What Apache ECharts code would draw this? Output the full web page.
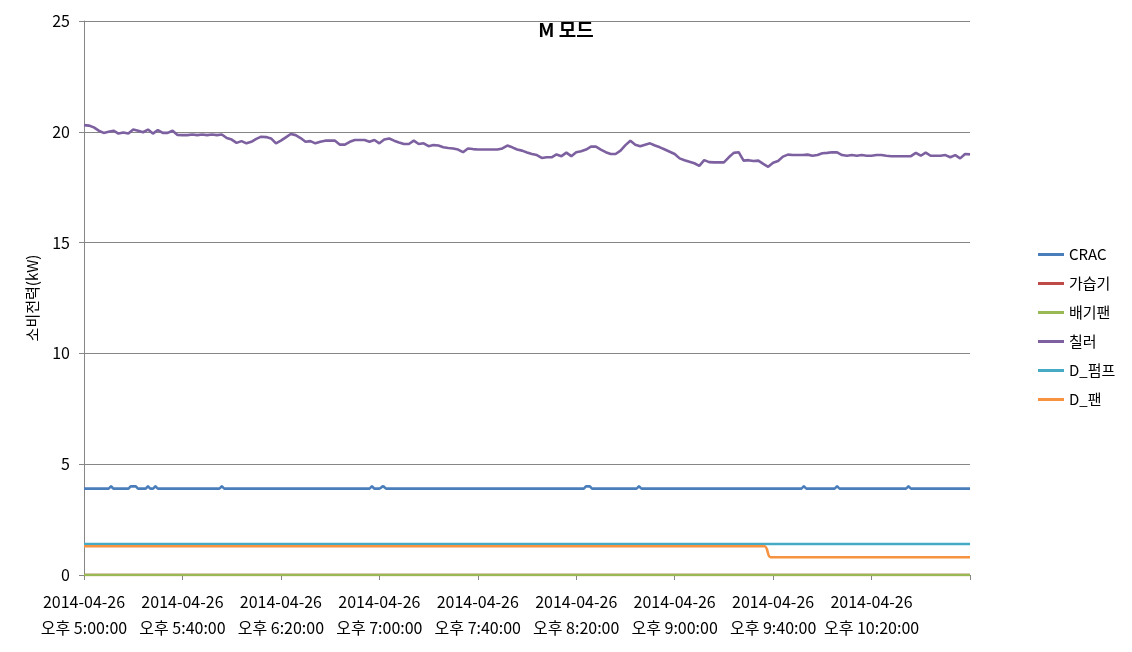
<!DOCTYPE html>
<html>
<head>
<meta charset="utf-8">
<script src="https://cdn.jsdelivr.net/npm/echarts@6/dist/echarts.min.js"></script>
<style>
html,body{margin:0;padding:0;background:#fff;}
#chart{width:1132px;height:652px;}
</style>
</head>
<body>
<div id="chart"></div>
<script>
// ---- Data (minutes after 오후 5:00:00) ----
const seriesNames = ['CRAC', '가습기', '배기팬', '칠러', 'D_펌프', 'D_팬'];
const xTickLabels = [
  '2014-04-26\n오후 5:00:00', '2014-04-26\n오후 5:40:00', '2014-04-26\n오후 6:20:00',
  '2014-04-26\n오후 7:00:00', '2014-04-26\n오후 7:40:00', '2014-04-26\n오후 8:20:00',
  '2014-04-26\n오후 9:00:00', '2014-04-26\n오후 9:40:00', '2014-04-26\n오후 10:20:00'
];
const yTicks = [0, 5, 10, 15, 20, 25];

// 칠러: one reading every 2 minutes, 5:00 .. 11:00
const chillerStep = 2;
const chillerValues = [
  20.3, 20.28, 20.2, 20.05, 19.95, 20.0, 20.05, 19.92, 19.97, 19.92,
  20.1, 20.05, 19.98, 20.1, 19.92, 20.08, 19.95, 19.95, 20.05, 19.86,
  19.85, 19.85, 19.88, 19.85, 19.88, 19.85, 19.88, 19.85, 19.88, 19.72,
  19.65, 19.5, 19.58, 19.48, 19.55, 19.68, 19.78, 19.76, 19.7, 19.48,
  19.6, 19.75, 19.9, 19.85, 19.72, 19.55, 19.58, 19.48, 19.55, 19.6,
  19.6, 19.6, 19.42, 19.42, 19.55, 19.63, 19.63, 19.63, 19.55, 19.63,
  19.48, 19.65, 19.7, 19.6, 19.52, 19.45, 19.45, 19.6, 19.45, 19.48,
  19.35, 19.4, 19.38, 19.3, 19.27, 19.25, 19.2, 19.08, 19.25, 19.22,
  19.2, 19.2, 19.2, 19.2, 19.2, 19.25, 19.38, 19.3, 19.2, 19.15,
  19.07, 19.0, 18.95, 18.82, 18.85, 18.85, 18.98, 18.9, 19.06, 18.9,
  19.08, 19.12, 19.2, 19.33, 19.33, 19.2, 19.08, 19.0, 19.0, 19.15,
  19.4, 19.6, 19.42, 19.35, 19.42, 19.48, 19.38, 19.3, 19.2, 19.1,
  19.0, 18.8, 18.72, 18.65, 18.58, 18.46, 18.72, 18.63, 18.62, 18.62,
  18.62, 18.85, 19.05, 19.08, 18.7, 18.72, 18.68, 18.7, 18.55, 18.42,
  18.6, 18.68, 18.88, 18.97, 18.95, 18.95, 18.95, 18.97, 18.92, 18.95,
  19.03, 19.05, 19.08, 19.07, 18.95, 18.92, 18.95, 18.92, 18.95, 18.92,
  18.92, 18.95, 18.95, 18.92, 18.9, 18.9, 18.9, 18.9, 18.9, 19.05,
  18.92, 19.06, 18.92, 18.92, 18.92, 18.95, 18.85, 18.95, 18.8, 19.0,
  18.98
];

// CRAC: change points
const cracTimes  = [0,   10,  11,  12,  18,  19,  21,  22,  25,  26,  27,  28,  29,  30,
                    55,  56,  57,  116, 117, 118, 120, 121.5, 123,
                    203, 204, 205.5, 206.5, 224.5, 225.5, 226.5,
                    291.5, 292.5, 293.5, 305, 306, 307, 334, 335, 336, 360];
const cracValues = [3.9, 3.9, 4.0, 3.9, 3.9, 4.0, 4.0, 3.9, 3.9, 4.0, 3.9, 3.9, 4.0, 3.9,
                    3.9, 4.0, 3.9, 3.9, 4.0, 3.9, 3.9, 4.0,   3.9,
                    3.9, 4.0, 4.0,   3.9,   3.9,   4.0,   3.9,
                    3.9,   4.0,   3.9,   3.9, 4.0, 3.9, 3.9, 4.0, 3.9, 3.9];

const humidTimes = [0, 360];
const humidValues = [0, 0];
const exhaustTimes = [0, 360];
const exhaustValues = [0, 0];
const pumpTimes = [0, 360];
const pumpValues = [1.4, 1.4];
const dfanTimes = [0, 276.5, 279, 360];
const dfanValues = [1.3, 1.3, 0.8, 0.8];

const colors = ['#4A7EBB', '#BE4B48', '#98B954', '#7D60A0', '#46AAC5', '#F69240'];

// ---- Build ----
function pairs(ts, vs) { return ts.map((t, i) => [t, vs[i]]); }
const chillerData = chillerValues.map((v, i) => [i * chillerStep, v]);

const dataSets = [
  pairs(cracTimes, cracValues),
  pairs(humidTimes, humidValues),
  pairs(exhaustTimes, exhaustValues),
  chillerData,
  pairs(pumpTimes, pumpValues),
  pairs(dfanTimes, dfanValues)
];

const FONT = '"Noto Sans CJK KR", "Noto Sans", sans-serif';
const gridColor = '#868686';

const chart = echarts.init(document.getElementById('chart'), null, { renderer: 'canvas' });
chart.setOption({
  animation: false,
  backgroundColor: '#fff',
  title: {
    text: 'M 모드',
    left: 'center',
    top: 15,
    textStyle: { fontFamily: FONT, fontSize: 19, fontWeight: 'bold', color: '#000' }
  },
  legend: {
    orient: 'vertical',
    left: 1033,
    top: 242,
    itemWidth: 26,
    itemHeight: 3,
    itemGap: 14,
    icon: 'rect',
    data: seriesNames,
    textStyle: { fontFamily: FONT, fontSize: 15, color: '#000' }
  },
  grid: { left: 84, right: 162, top: 21, bottom: 77, containLabel: false },
  xAxis: {
    type: 'value',
    min: 0,
    max: 360,
    interval: 40,
    axisLine: { show: true, lineStyle: { color: gridColor, width: 1 } },
    axisTick: { show: true, length: 5, lineStyle: { color: gridColor } },
    splitLine: { show: false },
    axisLabel: {
      fontFamily: FONT, fontSize: 16, color: '#000', lineHeight: 26, margin: 14,
      formatter: function (v) {
        const idx = Math.round(v / 40);
        return (idx < xTickLabels.length) ? xTickLabels[idx] : '';
      }
    }
  },
  yAxis: {
    type: 'value',
    min: yTicks[0],
    max: yTicks[yTicks.length - 1],
    interval: yTicks[1] - yTicks[0],
    name: '소비전력(kW)',
    nameLocation: 'middle',
    nameGap: 44,
    nameRotate: 90,
    nameTextStyle: { fontFamily: FONT, fontSize: 15, color: '#000' },
    axisLine: { show: true, lineStyle: { color: gridColor, width: 1 } },
    axisTick: { show: true, length: 5, lineStyle: { color: gridColor } },
    splitLine: { show: true, lineStyle: { color: gridColor, width: 1 } },
    axisLabel: { fontFamily: FONT, fontSize: 16, color: '#000', margin: 14 }
  },
  series: seriesNames.map((name, i) => ({
    name: name,
    type: 'line',
    data: dataSets[i],
    symbol: 'none',
    smooth: (name === 'D_팬' || name === 'CRAC') ? 0.3 : false,
    lineStyle: { width: 2.6, color: colors[i] },
    itemStyle: { color: colors[i] },
    z: 2 + i
  }))
});
</script>
</body>
</html>
